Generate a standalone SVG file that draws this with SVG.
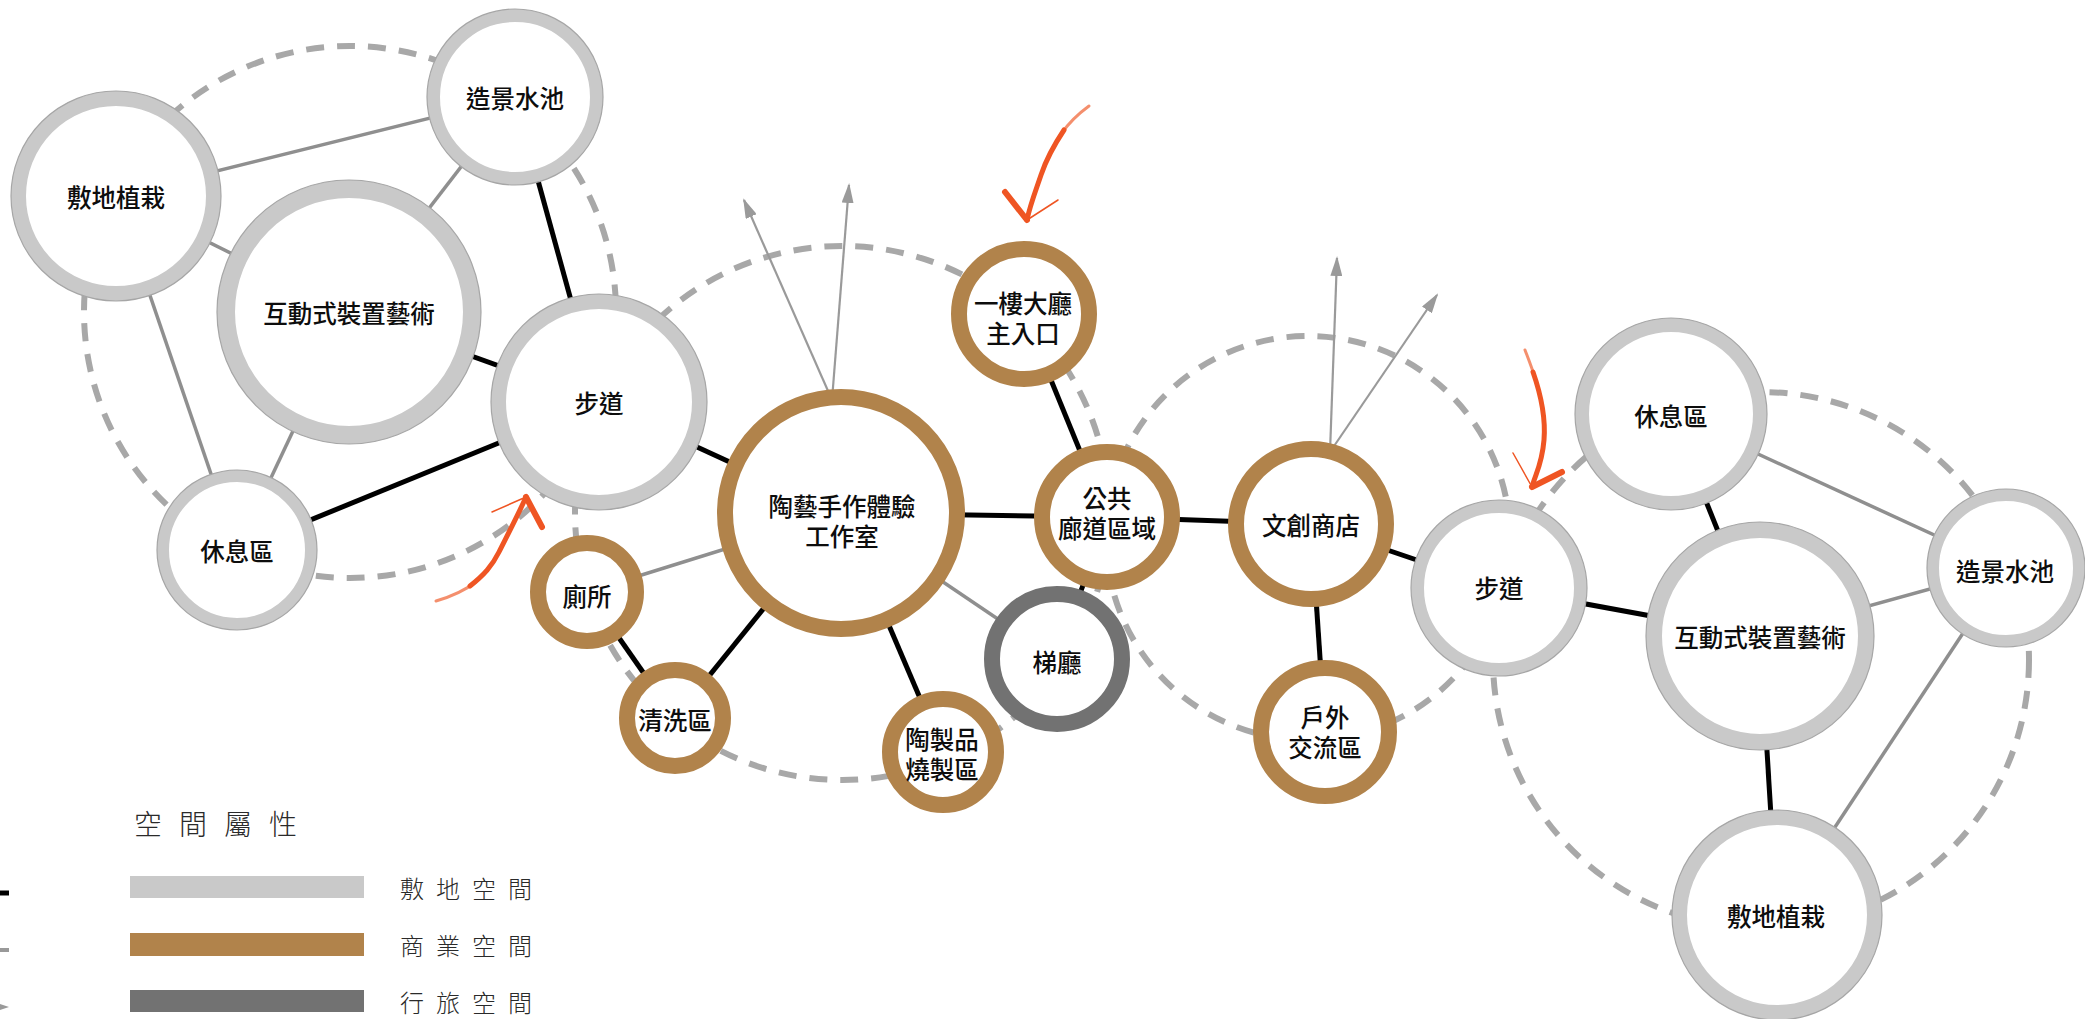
<svg xmlns="http://www.w3.org/2000/svg" width="2085" height="1019" viewBox="0 0 2085 1019">
<style>
.bg{fill:#ffffff}
.dash{fill:none;stroke:#a8a8a8;stroke-width:6;stroke-dasharray:18 13}
.lk{stroke:#000;stroke-width:5;stroke-linecap:butt}
.lg{stroke:#8f8f8f;stroke-width:3.5}
.ar{stroke:#9a9a9a;stroke-width:2.2;fill:none}
.gray{fill:#fff;stroke:#c9c9c9}
.edge{fill:none;stroke:#a6a6a6;stroke-width:1.2}
.brown{fill:#fff;stroke:#b1834b;stroke-width:16}
.dark{fill:#fff;stroke:#727272;stroke-width:16}
.t{font-family:"Noto Sans CJK TC","Noto Sans CJK SC",sans-serif;font-size:24.5px;font-weight:500;fill:#0d0d0d;text-anchor:middle;dominant-baseline:central}
.or{fill:none;stroke:#ef5523;stroke-linecap:round;stroke-linejoin:round}
.ort{fill:none;stroke:#f06a3c;stroke-linecap:round;opacity:0.75}
.lt{font-family:"Noto Sans CJK TC","Noto Sans CJK SC",sans-serif;font-weight:300;fill:#2a2a2a;dominant-baseline:central}
</style>
<defs>
<marker id="ah" viewBox="0 0 20 12" refX="18" refY="6" markerWidth="20" markerHeight="12" markerUnits="userSpaceOnUse" orient="auto">
<path d="M0,0 L20,6 L0,12 z" fill="#9a9a9a"/>
</marker>
</defs>
<rect class="bg" x="0" y="0" width="2085" height="1019"/>

<g id="zones">
<circle class="dash" cx="350" cy="312" r="266"/>
<circle class="dash" cx="842" cy="513" r="267"/>
<circle class="dash" cx="1308" cy="538" r="202"/>
<circle class="dash" cx="1761" cy="660" r="268"/>
</g>

<g id="connectors">
<line class="lg" x1="116" y1="196" x2="515" y2="97"/>
<line class="lg" x1="116" y1="196" x2="349" y2="312"/>
<line class="lg" x1="116" y1="196" x2="237" y2="550"/>
<line class="lg" x1="349" y1="312" x2="515" y2="97"/>
<line class="lg" x1="349" y1="312" x2="237" y2="550"/>
<line class="lk" x1="515" y1="97" x2="599" y2="402"/>
<line class="lk" x1="349" y1="312" x2="599" y2="402"/>
<line class="lk" x1="237" y1="550" x2="599" y2="402"/>
<line class="lk" x1="599" y1="402" x2="841" y2="513"/>
<line class="lg" x1="587" y1="592" x2="841" y2="513"/>
<line class="lk" x1="587" y1="592" x2="675" y2="718"/>
<line class="lk" x1="675" y1="718" x2="841" y2="513"/>
<line class="lk" x1="841" y1="513" x2="943" y2="752"/>
<line class="lg" x1="841" y1="513" x2="1057" y2="659"/>
<line class="lk" x1="841" y1="513" x2="1107" y2="517"/>
<line class="lk" x1="1024" y1="314" x2="1107" y2="517"/>
<line class="lk" x1="1107" y1="517" x2="1057" y2="659"/>
<line class="lk" x1="1107" y1="517" x2="1311" y2="524"/>
<line class="lk" x1="1311" y1="524" x2="1325" y2="732"/>
<line class="lk" x1="1311" y1="524" x2="1499" y2="588"/>
<line class="lk" x1="1499" y1="588" x2="1760" y2="636"/>
<line class="lk" x1="1671" y1="414" x2="1760" y2="636"/>
<line class="lg" x1="1671" y1="414" x2="2006" y2="568"/>
<line class="lg" x1="1760" y1="636" x2="2006" y2="568"/>
<line class="lk" x1="1760" y1="636" x2="1777" y2="915"/>
<line class="lg" x1="2006" y1="568" x2="1777" y2="915"/>
<line class="ar" x1="832" y1="400" x2="849" y2="185" marker-end="url(#ah)"/>
<line class="ar" x1="832" y1="400" x2="744" y2="200" marker-end="url(#ah)"/>
<line class="ar" x1="1330" y1="452" x2="1337" y2="258" marker-end="url(#ah)"/>
<line class="ar" x1="1330" y1="452" x2="1437" y2="295" marker-end="url(#ah)"/>
</g>

<g id="n-lplant"><circle class="gray" cx="116" cy="196" r="97.5" stroke-width="15"/><circle class="edge" cx="116" cy="196" r="105"/><text class="t" x="116" y="196">敷地植栽</text></g>
<g id="n-lpool"><circle class="gray" cx="515" cy="97" r="81.5" stroke-width="13"/><circle class="edge" cx="515" cy="97" r="88"/><text class="t" x="515" y="97">造景水池</text></g>
<g id="n-lart"><circle class="gray" cx="349" cy="312" r="123" stroke-width="18"/><circle class="edge" cx="349" cy="312" r="132"/><text class="t" x="349" y="312">互動式裝置藝術</text></g>
<g id="n-lwalk"><circle class="gray" cx="599" cy="402" r="100.5" stroke-width="15"/><circle class="edge" cx="599" cy="402" r="108"/><text class="t" x="599" y="402">步道</text></g>
<g id="n-lrest"><circle class="gray" cx="237" cy="550" r="74" stroke-width="12"/><circle class="edge" cx="237" cy="550" r="80"/><text class="t" x="237" y="550">休息區</text></g>

<g id="n-studio"><circle class="brown" cx="841" cy="513" r="116"/><text class="t" x="842" y="505">陶藝手作體驗<tspan x="842" dy="30">工作室</tspan></text></g>
<g id="n-lobby"><circle class="brown" cx="1024" cy="314" r="65"/><text class="t" x="1023" y="302">一樓大廳<tspan x="1023" dy="30">主入口</tspan></text></g>
<g id="n-corridor"><circle class="brown" cx="1107" cy="517" r="65"/><text class="t" x="1107" y="497">公共<tspan x="1107" dy="30">廊道區域</tspan></text></g>
<g id="n-shop"><circle class="brown" cx="1311" cy="524" r="75"/><text class="t" x="1311" y="524">文創商店</text></g>
<g id="n-outdoor"><circle class="brown" cx="1325" cy="732" r="64"/><text class="t" x="1325" y="716">戶外<tspan x="1325" dy="30">交流區</tspan></text></g>
<g id="n-elev"><circle class="dark" cx="1057" cy="659" r="65"/><text class="t" x="1057" y="661">梯廳</text></g>
<g id="n-wc"><circle class="brown" cx="587" cy="592" r="49"/><text class="t" x="587" y="595">廁所</text></g>
<g id="n-wash"><circle class="brown" cx="675" cy="718" r="48"/><text class="t" x="675" y="719">清洗區</text></g>
<g id="n-kiln"><circle class="brown" cx="943" cy="752" r="53"/><text class="t" x="942" y="738">陶製品<tspan x="942" dy="30">燒製區</tspan></text></g>

<g id="n-rrest"><circle class="gray" cx="1671" cy="414" r="89" stroke-width="14"/><circle class="edge" cx="1671" cy="414" r="96"/><text class="t" x="1671" y="415">休息區</text></g>
<g id="n-rwalk"><circle class="gray" cx="1499" cy="588" r="81.5" stroke-width="13"/><circle class="edge" cx="1499" cy="588" r="88"/><text class="t" x="1499" y="587">步道</text></g>
<g id="n-rart"><circle class="gray" cx="1760" cy="636" r="106" stroke-width="16"/><circle class="edge" cx="1760" cy="636" r="114"/><text class="t" x="1760" y="636">互動式裝置藝術</text></g>
<g id="n-rpool"><circle class="gray" cx="2006" cy="568" r="73" stroke-width="12"/><circle class="edge" cx="2006" cy="568" r="79"/><text class="t" x="2005" y="570">造景水池</text></g>
<g id="n-rplant"><circle class="gray" cx="1777" cy="915" r="97.5" stroke-width="15"/><circle class="edge" cx="1777" cy="915" r="105"/><text class="t" x="1776" y="915">敷地植栽</text></g>

<g id="entry-arrows">
<path class="ort" d="M436,601 C450,597 464,591 476,582" stroke-width="3"/>
<path class="or" d="M470,586 C484,575 492,566 499,552 S518,515 526,497" stroke-width="5"/>
<path class="or" d="M526,497 L492,512" stroke-width="1.5"/>
<path class="or" d="M526,497 L542,527" stroke-width="6"/>
<path class="ort" d="M1089,106 C1078,114 1068,124 1061,134" stroke-width="3"/>
<path class="or" d="M1064,130 C1054,145 1046,160 1041,175 S1030,205 1027,220" stroke-width="5"/>
<path class="or" d="M1027,220 L1005,192" stroke-width="6"/>
<path class="or" d="M1027,220 L1058,200" stroke-width="1.5"/>
<path class="ort" d="M1525,350 C1528,358 1532,368 1535,378" stroke-width="3"/>
<path class="or" d="M1533,372 C1540,392 1546,415 1544,440 S1535,475 1532,487" stroke-width="5"/>
<path class="or" d="M1532,487 L1513,453" stroke-width="1.5"/>
<path class="or" d="M1532,487 L1562,472" stroke-width="6"/>
</g>

<g id="legend">
<line x1="-20" y1="893" x2="9" y2="893" stroke="#000" stroke-width="5"/>
<line x1="-20" y1="950" x2="9" y2="950" stroke="#999" stroke-width="4"/>
<line x1="-20" y1="1007" x2="0" y2="1007" stroke="#9a9a9a" stroke-width="2"/>
<path d="M-6,1002 L9,1007 L-6,1012 z" fill="#9a9a9a"/>
<text class="lt" x="134" y="823" font-size="28" letter-spacing="17">空間屬性</text>
<rect x="130" y="876" width="234" height="22" fill="#c9c9c9"/>
<rect x="130" y="933" width="234" height="23" fill="#b1834b"/>
<rect x="130" y="990" width="234" height="22" fill="#727272"/>
<text class="lt" x="400" y="887" font-size="24" letter-spacing="12">敷地空間</text>
<text class="lt" x="400" y="944" font-size="24" letter-spacing="12">商業空間</text>
<text class="lt" x="400" y="1001" font-size="24" letter-spacing="12">行旅空間</text>
</g>
</svg>
